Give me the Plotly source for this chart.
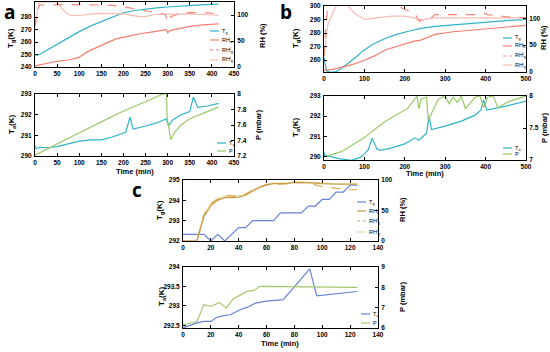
import plotly.graph_objects as go

# ---------------- DATA ----------------
# Panel a (top)
a_tg_t = [0, 5, 10, 25, 50, 75, 100, 125, 150, 175, 200, 225, 250, 275, 300, 325, 350, 375, 400, 415]
a_tg = [250, 249.6, 250, 253, 258.2, 263.5, 268.4, 272.8, 276.5, 280.2, 283.6, 285.4, 286.6, 287.5, 288.2, 288.9, 289.5, 289.9, 290.3, 290.5]
a_rha_t = [0, 25, 50, 72, 98, 120, 147, 183, 215, 237, 270, 297, 300, 306, 320, 350, 380, 415]
a_rha = [2, 6, 11, 13, 18, 30, 40, 54, 60, 64, 68, 72, 66, 70, 73, 78, 81, 83]
a_rhl_t = [0, 5, 10, 60, 170, 200, 237, 270, 295, 300, 305, 320, 350, 390, 415]
a_rhl = [78, 105, 119, 120, 119, 116, 110, 105, 101, 86, 96, 101, 105, 104, 102]
a_rhi_t = [0, 5, 9, 50, 65, 80, 100, 140, 160, 200, 235, 250, 270, 300, 350, 400, 415]
a_rhi = [78, 105, 125, 125, 108, 99, 99, 103, 103, 102, 97, 97, 101, 101, 102, 100, 99]
# Panel a (bottom)
a_ta_t = [0, 3, 10, 30, 50, 75, 100, 125, 150, 175, 205, 215, 222, 250, 275, 297, 302, 310, 330, 350, 358, 368, 390, 415]
a_ta = [290.5, 290.35, 290.42, 290.4, 290.45, 290.6, 290.72, 290.78, 290.78, 290.92, 291.15, 291.88, 291.3, 291.45, 291.6, 291.8, 291.45, 291.72, 292.0, 292.15, 292.85, 292.35, 292.42, 292.55]
a_p_t = [0, 50, 100, 150, 200, 250, 297, 299, 307, 315, 330, 350, 375, 400, 415]
a_p = [7.21, 7.36, 7.5, 7.64, 7.78, 7.9, 8.02, 7.68, 7.41, 7.5, 7.6, 7.68, 7.74, 7.8, 7.83]

# Panel b (top)
b_tg_t = [0, 3, 6, 15, 30, 43, 60, 80, 97, 120, 151, 180, 209, 240, 275, 320, 374, 420, 460, 500]
b_tg = [262, 258, 252, 251, 251.5, 253.8, 257.5, 262.5, 267, 271.5, 276, 279, 281.3, 283.5, 285, 286.2, 287.5, 288.5, 289.3, 290]
b_rha_t = [0, 20, 50, 75, 100, 125, 151, 190, 225, 230, 235, 275, 320, 374, 430, 500]
b_rha = [3, 5, 10, 15, 22, 30, 41, 50, 57, 59, 58, 70, 75, 79, 83, 87]
b_rhl_t = [0, 4, 10, 165, 200, 225, 232, 237, 250, 265, 275, 300, 350, 380, 392, 405, 450, 500]
b_rhl = [30, 80, 128, 128, 117, 109, 100, 96, 100, 101, 107, 107, 106, 107, 110, 107, 103, 101]
b_rhi_t = [0, 10, 25, 34, 55, 75, 101, 125, 167, 200, 225, 235, 250, 275, 350, 420, 500]
b_rhi = [30, 90, 115, 128, 128, 110, 98, 100, 104, 104, 101, 94, 98, 101, 101, 101, 101]
# Panel b (bottom)
b_ta_t = [0, 2, 15, 40, 68, 90, 101, 110, 119, 131, 140, 167, 200, 225, 235, 254, 260, 266, 300, 340, 374, 388, 395, 403, 450, 500]
b_ta = [290.2, 290.05, 290.0, 289.88, 289.8, 289.95, 290.15, 290.35, 290.9, 290.37, 290.3, 290.42, 290.62, 290.92, 290.8, 291.15, 292.0, 291.33, 291.5, 291.75, 292.05, 292.3, 292.8, 292.3, 292.5, 292.75]
b_p_t = [0, 43, 100, 151, 208, 225, 230, 235, 240, 254, 258, 283, 300, 310, 320, 330, 340, 350, 374, 386, 395, 405, 419, 430, 460, 500]
b_p = [7.05, 7.13, 7.35, 7.6, 7.81, 7.97, 8.0, 7.8, 7.95, 7.98, 7.62, 7.95, 8.0, 7.88, 7.98, 7.9, 8.0, 7.8, 7.98, 8.0, 7.82, 7.98, 8.0, 7.82, 7.92, 8.0]

# Panel c (top)
c_tg_t = [0, 15, 20, 25, 30, 40, 45, 50, 65, 70, 85, 90, 95, 100, 105, 110, 115, 120, 125]
c_tg = [292.33, 292.33, 292.0, 292.33, 292.0, 292.66, 292.66, 293.0, 293.0, 293.38, 293.38, 293.72, 293.72, 294.05, 294.05, 294.4, 294.4, 294.75, 294.75]
c_rh_t = [0, 5, 10, 15, 20, 25, 30, 35, 40, 45, 50, 55, 60, 65, 70, 75, 80, 85, 90, 95, 100, 105, 110, 115, 120, 125]
c_rha = [0, 0, 0, 40, 58, 67, 71, 71, 72, 75, 82, 88, 92, 94, 94, 94, 96, 96, 96, 95, 94, 93, 93, 93, 93, 93]
c_rhl = [0, 0, 0, 42, 60, 69, 75, 74, 73, 77, 83, 89, 92, 94, 93, 94, 96, 96, 95, 92, 89, 88, 86, 85, 84, 84]
c_rhi = [0, 0, 2, 44, 62, 70, 73, 73, 74, 76, 84, 89, 93, 95, 95, 95, 97, 97, 97, 96, 95, 94, 94, 94, 94, 94]
# Panel c (bottom)
c_ta_t = [0, 10, 15, 20, 24, 29, 34, 41, 46, 52, 60, 72, 91, 96, 125]
c_ta = [292.43, 292.56, 292.6, 292.6, 292.7, 292.75, 292.77, 292.9, 292.96, 293.07, 293.12, 293.16, 293.95, 293.26, 293.37]
c_p_t = [0, 10, 15, 20, 26, 31, 36, 46, 51, 55, 125]
c_p = [6.16, 6.32, 7.15, 7.06, 7.26, 6.98, 7.43, 7.8, 7.85, 8.05, 8.0]

# ---------------- STYLE ----------------
W, H = 550, 352
TEAL = "#2fb3c8"
SAL = "#f47e6e"
SAL_D = "#f4897b"
PINK = "#f9bcb4"
GREEN = "#98c867"
CBLUE = "#6684d8"
CORG = "#c99c47"
CORG_D = "#d9a64f"
CPALE = "#ecd59c"
CGREEN = "#a6c66e"
FONT = "Liberation Sans"
TICKF = dict(family=FONT, size=6.5, color="black", weight="bold")

def px(x):
    return x / W

def py(y):
    return 1 - y / H

fig = go.Figure()

# panel boxes (pixel): x0, x1, y_top, y_bottom
panels = [
    dict(box=(35, 234, 2, 67), xr=[0, 450], xt=list(range(0, 451, 50)),
         yl=[240, 292.2], ylt=[240, 250, 260, 270, 280], yr=[0, 125], yrt=[0, 50, 100]),
    dict(box=(35, 234, 94, 156), xr=[0, 450], xt=list(range(0, 451, 50)),
         yl=[290, 293], ylt=[290, 291, 292, 293], yr=[7.2, 8.0], yrt=[7.2, 7.4, 7.6, 7.8, 8.0],
         yrtx=["7.2", "7.4", "7.6", "7.8", "8"]),
    dict(box=(324, 526, 6, 72), xr=[0, 500], xt=list(range(0, 501, 100)),
         yl=[251.2, 300], ylt=[260, 270, 280, 290, 300], yr=[0, 123], yrt=[0, 50, 100]),
    dict(box=(324, 526, 96, 160), xr=[0, 500], xt=list(range(0, 501, 100)),
         yl=[289.82, 293], ylt=[290, 291, 292, 293], yr=[7, 8], yrt=[7, 7.5, 8],
         yrtx=["7", "7.5", "8"]),
    dict(box=(183, 378, 180, 241), xr=[0, 140], xt=list(range(0, 141, 20)),
         yl=[292, 295], ylt=[292, 293, 294, 295], yr=[0, 100], yrt=[0, 50, 100]),
    dict(box=(183, 378, 267, 328), xr=[0, 140], xt=list(range(0, 141, 20)),
         yl=[292.43, 294], ylt=[292.5, 293, 293.5, 294], yr=[6, 9], yrt=[6, 7, 8, 9],
         yltx=["292.5", "293", "293.5", "294"]),
]

layout = dict(width=W, height=H, margin=dict(l=0, r=0, t=0, b=0, autoexpand=False),
              paper_bgcolor="white", plot_bgcolor="white", showlegend=False)

for i, p in enumerate(panels):
    k = i + 1
    xname = "xaxis" if k == 1 else f"xaxis{k}"
    yl_id = 2 * i + 1
    yr_id = 2 * i + 2
    yl_name = "yaxis" if yl_id == 1 else f"yaxis{yl_id}"
    yr_name = f"yaxis{yr_id}"
    x0, x1, yt, yb = p["box"]
    xref = "x" if k == 1 else f"x{k}"
    yl_ref = "y" if yl_id == 1 else f"y{yl_id}"
    layout[xname] = dict(domain=[px(x0), px(x1)], anchor=yl_ref, range=p["xr"], tickvals=p["xt"],
                         showline=True, linecolor="black", linewidth=1, mirror="ticks",
                         ticks="inside", ticklen=3, tickcolor="black", tickfont=TICKF,
                         showgrid=False, zeroline=False, ticklabelstandoff=0, automargin=False)
    layout[yl_name] = dict(domain=[py(yb), py(yt)], anchor=xref, range=p["yl"], tickvals=p["ylt"],
                           ticktext=p.get("yltx", [str(v) for v in p["ylt"]]),
                           showline=True, linecolor="black", linewidth=1,
                           ticks="inside", ticklen=3, tickcolor="black", tickfont=TICKF,
                           showgrid=False, zeroline=False, ticklabelstandoff=1, automargin=False)
    layout[yr_name] = dict(overlaying=yl_ref, side="right", anchor=xref, range=p["yr"], tickvals=p["yrt"],
                           ticktext=p.get("yrtx", [str(v) for v in p["yrt"]]),
                           showline=True, linecolor="black", linewidth=1,
                           ticks="inside", ticklen=3, tickcolor="black", tickfont=TICKF,
                           showgrid=False, zeroline=False, ticklabelstandoff=1, automargin=False)

fig.update_layout(**layout)

def add(x, y, xa, ya, color, dash="solid", width=1.2):
    fig.add_trace(go.Scatter(x=x, y=y, xaxis=xa, yaxis=ya, mode="lines",
                             line=dict(color=color, width=width, dash=dash), hoverinfo="skip"))

# Panel a
add(a_rhi_t, a_rhi, "x", "y2", PINK)
add(a_rhl_t, a_rhl, "x", "y2", SAL_D, "dash")
add(a_rha_t, a_rha, "x", "y2", SAL)
add(a_tg_t, a_tg, "x", "y", TEAL)
add(a_p_t, a_p, "x2", "y4", GREEN)
add(a_ta_t, a_ta, "x2", "y3", TEAL)
# Panel b
add(b_rhi_t, b_rhi, "x3", "y6", PINK)
add(b_rhl_t, b_rhl, "x3", "y6", SAL_D, "dash")
add(b_rha_t, b_rha, "x3", "y6", SAL)
add(b_tg_t, b_tg, "x3", "y5", TEAL)
add(b_p_t, b_p, "x4", "y8", GREEN)
add(b_ta_t, b_ta, "x4", "y7", TEAL)
# Panel c
add(c_rh_t, c_rhi, "x5", "y10", CPALE)
add(c_rh_t, c_rhl, "x5", "y10", CORG_D, "dash")
add(c_rh_t, c_rha, "x5", "y10", CORG)
add(c_tg_t, c_tg, "x5", "y9", CBLUE)
add(c_p_t, c_p, "x6", "y12", CGREEN)
add(c_ta_t, c_ta, "x6", "y11", CBLUE)

annotations = []
shapes = []

def ann(x, y, text, size=7.5, angle=0, bold=True, xanchor="center", yanchor="middle"):
    annotations.append(dict(x=px(x), y=py(y), xref="paper", yref="paper", text=text, showarrow=False,
                            textangle=angle, xanchor=xanchor, yanchor=yanchor,
                            font=dict(family=FONT, size=size, color="black",
                                      weight="bold" if bold else "normal")))

# panel letters
LETTERF = dict(family="Open Sans", size=19, color="black", weight="bold")
annotations.append(dict(x=px(9), y=py(12), xref="paper", yref="paper", text="a", showarrow=False,
                        xanchor="center", yanchor="middle", font=LETTERF))
annotations.append(dict(x=px(286), y=py(12), xref="paper", yref="paper", text="b", showarrow=False,
                        xanchor="center", yanchor="middle", font=LETTERF))
annotations.append(dict(x=px(137), y=py(190), xref="paper", yref="paper", text="c", showarrow=False,
                        xanchor="center", yanchor="middle", font=LETTERF))

# axis titles
ann(11, 38, "T<sub>g</sub>(K)", 8, -90)
ann(262, 36, "RH (%)", 7.5, -90)
ann(12, 125, "T<sub>a</sub>(K)", 8, -90)
ann(258, 125, "P (mbar)", 7.5, -90)
ann(135, 171, "Time (min)", 7.5)
ann(296, 38, "T<sub>g</sub>(K)", 8, -90)
ann(544, 38, "RH (%)", 7.5, -90)
ann(296, 128, "T<sub>a</sub>(K)", 8, -90)
ann(544, 128, "P (mbar)", 7.5, -90)
ann(425, 173, "Time (min)", 7.5)
ann(160, 210, "T<sub>g</sub>(K)", 8, -90)
ann(402, 210, "RH (%)", 7.5, -90)
ann(162, 297, "T<sub>a</sub>(K)", 8, -90)
ann(402, 297, "P (mbar)", 7.5, -90)
ann(280, 343, "Time (min)", 7.5)

# legends (line sample + label)
def legend_item(x0, y, color, dash, text):
    shapes.append(dict(type="line", xref="paper", yref="paper", x0=px(x0), x1=px(x0 + 9),
                       y0=py(y), y1=py(y), line=dict(color=color, width=1.2, dash=dash)))
    ann(x0 + 10, y, text, 5.5, 0, False, xanchor="left")

for (lx, ys, items) in [
    (210, [31, 40, 50, 60], [(TEAL, "solid", "T<sub>g</sub>"), (SAL, "solid", "RH<sub>a</sub>"),
                             (SAL_D, "dot", "RH<sup>l</sup><sub>g</sub>"), (PINK, "solid", "RH<sup>i</sup><sub>g</sub>")]),
    (217, [143, 151], [(TEAL, "solid", "T<sub>a</sub>"), (GREEN, "solid", "P")]),
    (503, [38, 46, 56, 65], [(TEAL, "solid", "T<sub>g</sub>"), (SAL, "solid", "RH<sub>a</sub>"),
                             (SAL_D, "dot", "RH<sup>l</sup><sub>g</sub>"), (PINK, "solid", "RH<sup>i</sup><sub>g</sub>")]),
    (503, [148, 154], [(TEAL, "solid", "T<sub>a</sub>"), (GREEN, "solid", "P")]),
    (357, [202, 211, 221, 232], [(CBLUE, "solid", "T<sub>g</sub>"), (CORG, "solid", "RH<sub>a</sub>"),
                                 (CORG_D, "dot", "RH<sup>l</sup><sub>g</sub>"), (CPALE, "solid", "RH<sup>i</sup><sub>g</sub>")]),
    (361, [314, 323], [(CBLUE, "solid", "T<sub>a</sub>"), (CGREEN, "solid", "P")]),
]:
    for yv, (c, d, t) in zip(ys, items):
        legend_item(lx, yv, c, d, t)

fig.update_layout(annotations=annotations, shapes=shapes)
fig.write_html("out.html", config={"displayModeBar": False},
               post_script="document.body.style.margin='0';document.body.style.padding='0';")
